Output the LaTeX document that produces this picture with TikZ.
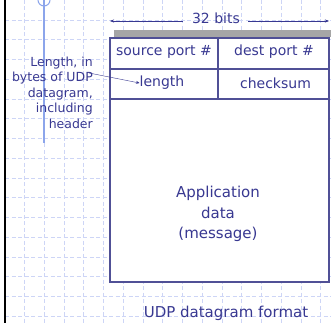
\documentclass[tikz,border=0pt]{standalone}
\usepackage{fontspec}
\setmainfont{DejaVu Sans}
\usetikzlibrary{arrows.meta}

\definecolor{inkblue}{RGB}{56,56,145}
\definecolor{boxblue}{RGB}{80,80,150}
\definecolor{gridblue}{RGB}{205,213,246}
\definecolor{rulerblue}{RGB}{140,165,235}

\begin{document}
\begin{tikzpicture}[x=1pt, y=-1pt,
    lbl/.style={text=inkblue, inner sep=0pt, font=\fontsize{14}{16}\selectfont},
    field/.style={lbl, anchor=center}]

    \useasboundingbox (0,0) rectangle (331,323);

    % --- griglia di sfondo ---
    \foreach \k in {1,...,16}
        \draw[gridblue, dash pattern=on 4pt off 2.5pt] (4.55+19.75*\k,0) -- (4.55+19.75*\k,323);
    \foreach \k in {1,...,16}
        \draw[gridblue, dash pattern=on 4pt off 2.5pt] (5,19.75*\k) -- (331,19.75*\k);

    % bordo sinistro e righello
    \draw[black, line width=2pt] (5,0) -- (5,323);
    \draw[rulerblue, line width=1.2pt] (44,0) -- (44,143);
    \draw[rulerblue, line width=1pt] (44,0) circle (6);

    % --- intestazione 32 bit ---
    \node[field] (bits) at (216,18) {32 bits};
    \coordinate (bitsL) at (110,21);
    \coordinate (bitsR) at (329,21);
    \draw[inkblue, -{Stealth[length=4pt,width=3pt]}] (bits.west |- bitsL) ++(-9,0) -- (bitsL);
    \draw[inkblue, -{Stealth[length=4pt,width=3pt]}] (bits.east |- bitsR) ++(8,0) -- (bitsR);

    % --- segmento UDP ---
    \fill[black!35] (114,30) rectangle (331,37.5);
    \draw[boxblue, line width=1.2pt, fill=white] (110,38) rectangle (329,282);
    \draw[boxblue, line width=1.2pt] (110,69) -- (329,69);
    \draw[boxblue, line width=1.2pt] (110,99) -- (329,99);
    \draw[boxblue, line width=1.2pt] (218,38) -- (218,99);

    \node[field] (src) at (164,52) {source port \#};
    \node[field] (dst) at (274,52) {dest port \#};
    \node[field] (len) at (162,83) {length};
    \node[field] (chk) at (275.5,83) {checksum};

    \node[lbl, align=center, font=\fontsize{15}{20.5}\selectfont] (app) at (218,214)
        {Application\\data\\(message)};

    % --- nota sulla lunghezza ---
    \node[lbl, align=right, anchor=north east, font=\fontsize{12.5}{15.5}\selectfont] (note) at (93,56.5)
        {Length, in\\bytes of UDP\\datagram,\\including\\header};
    \coordinate (noteP) at (89,73);
    \draw[inkblue, -{Stealth[length=3.5pt,width=3pt]}] (noteP) -- (len.west);

    % didascalia
    \node[field, font=\fontsize{15}{18}\selectfont] (cap) at (226,313) {UDP datagram format};

\end{tikzpicture}
\end{document}
